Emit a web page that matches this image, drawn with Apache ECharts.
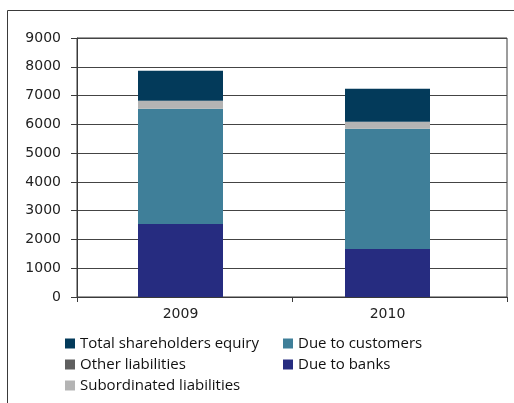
<!DOCTYPE html>
<html>
<head>
<meta charset="utf-8">
<script src="https://cdn.jsdelivr.net/npm/echarts@6/dist/echarts.min.js"></script>
<style>html,body{margin:0;padding:0;background:#fff;}#c{width:514px;height:403px;}</style>
</head>
<body>
<div id="c"></div>
<script>
const years = ['2009', '2010'];
const dueToBanks = [2540, 1670];
const dueToCustomers = [4000, 4175];
const otherLiabilities = [0, 0];
const subordinated = [280, 244];
const equity = [1044, 1148];
const yTicks = { min: 0, max: 9000, interval: 1000 };

const chart = echarts.init(document.getElementById('c'), null, { renderer: 'canvas' });
const axisFont = 'DejaVu Sans';
const legendFont = 'Open Sans';
const lineCol = '#3a3a3a';

function barSeries(name, data, color) {
  return {
    name: name, type: 'bar', stack: 'all', data: data,
    xAxisIndex: 1, yAxisIndex: 1, barWidth: 85,
    itemStyle: { color: color }, emphasis: { disabled: true }
  };
}

const legendText = { fontFamily: legendFont, fontSize: 15, color: '#111', lineHeight: 14 };

chart.setOption({
  animation: false,
  grid: [
    { left: 77, top: 38, width: 430, height: 259, show: true, borderColor: lineCol, borderWidth: 1, backgroundColor: 'transparent' },
    { left: 77, top: 38, width: 414, height: 259 }
  ],
  xAxis: [
    { type: 'category', gridIndex: 0, data: years,
      axisLine: { show: true, lineStyle: { color: lineCol, width: 1 } },
      axisTick: { show: true, length: 5, lineStyle: { color: lineCol } },
      axisLabel: { show: false }, splitLine: { show: false } },
    { type: 'category', gridIndex: 1, data: years,
      axisLine: { show: false }, axisTick: { show: false },
      axisLabel: { show: true, margin: 10, fontFamily: axisFont, fontSize: 14, color: '#222' } }
  ],
  yAxis: [
    { type: 'value', gridIndex: 0, min: yTicks.min, max: yTicks.max, interval: yTicks.interval,
      axisLine: { show: true, lineStyle: { color: lineCol, width: 1 } },
      axisTick: { show: true, length: 6, lineStyle: { color: lineCol } },
      axisLabel: { margin: 16, fontFamily: axisFont, fontSize: 14, color: '#222', formatter: v => String(v) },
      splitLine: { show: true, lineStyle: { color: '#444', width: 1 } } },
    { type: 'value', gridIndex: 1, min: yTicks.min, max: yTicks.max, interval: yTicks.interval, show: false,
      splitLine: { show: false } }
  ],
  legend: [
    { left: 65, top: 336, orient: 'vertical', padding: 0, itemWidth: 10, itemHeight: 10, itemGap: 6,
      icon: 'rect', textStyle: legendText,
      data: ['Total shareholders equiry', 'Other liabilities', 'Subordinated liabilities'] },
    { left: 283, top: 336, orient: 'vertical', padding: 0, itemWidth: 10, itemHeight: 10, itemGap: 6,
      icon: 'rect', textStyle: legendText,
      data: ['Due to customers', 'Due to banks'] }
  ],
  graphic: [
    { type: 'line', shape: { x1: 7.5, y1: 10.5, x2: 514, y2: 10.5 }, style: { stroke: lineCol, lineWidth: 1 } },
    { type: 'line', shape: { x1: 7.5, y1: 10.5, x2: 7.5, y2: 403 }, style: { stroke: lineCol, lineWidth: 1 } }
  ],
  series: [
    barSeries('Due to banks', dueToBanks, '#262c80'),
    barSeries('Due to customers', dueToCustomers, '#3f7f99'),
    barSeries('Other liabilities', otherLiabilities, '#5f5f5f'),
    barSeries('Subordinated liabilities', subordinated, '#b4b4b4'),
    barSeries('Total shareholders equiry', equity, '#033a5a')
  ]
});
</script>
</body>
</html>
